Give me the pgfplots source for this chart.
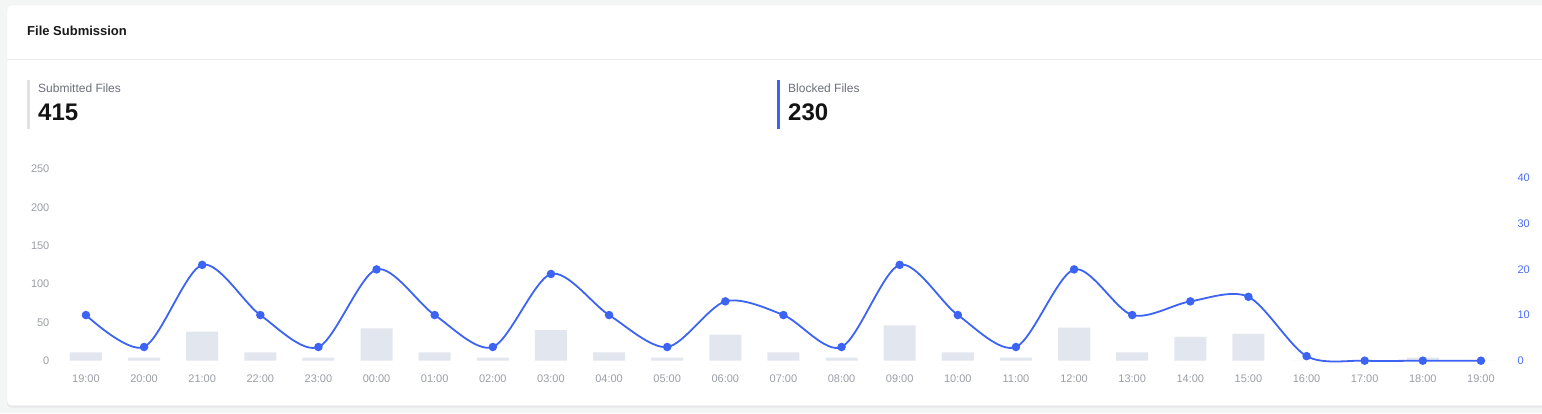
\documentclass[border=0pt]{standalone}
\usepackage{fontspec}
\setmainfont{Liberation Sans}
\usepackage{pgfplots}
\pgfplotsset{compat=1.18}

\definecolor{pagebg}{HTML}{F4F5F5}
\definecolor{cardline}{HTML}{E9EAEC}
\definecolor{shadowc}{HTML}{E6E7E8}
\definecolor{barc}{HTML}{E2E6EF}
\definecolor{linec}{HTML}{3D63F3}
\definecolor{rtick}{HTML}{4A6CF7}
\definecolor{gtick}{HTML}{9B9EA6}
\definecolor{kpilabel}{HTML}{6C7079}
\definecolor{kpigrey}{HTML}{DFE2E8}

\begin{document}
\begin{tikzpicture}
\begin{scope}[x=1pt,y=1pt]
\fill[pagebg] (0,0) rectangle (1542,413);
% card
\fill[shadowc,rounded corners=4] (7,5.5) rectangle (1560,407);
\filldraw[fill=white,draw=cardline,rounded corners=4] (7,7.5) rectangle (1560,408);
\draw[cardline] (7,353.7) -- (1542,353.7);
\node[anchor=west,inner sep=0,font=\fontsize{13}{15}\selectfont\bfseries,text=black!90] at (27,382) {File Submission};

% KPIs
\fill[kpigrey] (27,284) rectangle (29.7,333);
\node[anchor=west,inner sep=0,font=\fontsize{12}{14}\selectfont,text=kpilabel] at (38,325) {Submitted Files};
\node[anchor=west,inner sep=0,font=\fontsize{24}{28}\selectfont\bfseries,text=black!92] at (38,300.5) {415};
\fill[linec] (777,284) rectangle (779.8,333);
\node[anchor=west,inner sep=0,font=\fontsize{12}{14}\selectfont,text=kpilabel] at (788,325) {Blocked Files};
\node[anchor=west,inner sep=0,font=\fontsize{24}{28}\selectfont\bfseries,text=black!92] at (788,300.5) {230};
\end{scope}

\pgfplotsset{
  every axis/.append style={
    at={(56.9pt,52.3pt)}, anchor=south west,
    width=1453.1pt, height=191.7pt, scale only axis,
    xmin=-0.5, xmax=24.5,
    axis line style={draw=none},
    tick style={draw=none},
    /pgf/number format/assume math mode=true,
    tick label style={font=\fontsize{11}{13}\selectfont},
  }
}

% submitted files (bars, left axis)
\begin{axis}[
    ymin=0, ymax=250,
    ytick={0,50,100,150,200,250},
    yticklabel style={text=gtick, xshift=-4pt},
    xtick={0,...,24},
    xticklabels={19:00,20:00,21:00,22:00,23:00,00:00,01:00,02:00,03:00,04:00,05:00,06:00,07:00,08:00,09:00,10:00,11:00,12:00,13:00,14:00,15:00,16:00,17:00,18:00,19:00},
    xticklabel style={text=gtick, anchor=center, yshift=-14pt},
    ybar, bar width=32pt,
]
\addplot[fill=barc, draw=none] coordinates {
(0,11)(1,4)(2,38)(3,11)(4,4)(5,42)(6,11)(7,4)(8,40)(9,11)(10,4)(11,34)(12,11)
(13,4)(14,46)(15,11)(16,4)(17,43)(18,11)(19,31)(20,35)(21,0)(22,0)(23,4)(24,0)};
\end{axis}

% blocked files (line, right axis)
\begin{axis}[
    ymin=0, ymax=42,
    axis y line*=right,
    hide x axis,
    ytick={0,10,20,30,40},
    yticklabel style={text=rtick, xshift=4pt},
    clip=false,
]
\addplot[linec, line width=1.8pt, smooth, tension=0.5, mark=*, mark size=3.3pt,
         mark options={solid, fill=linec, draw=none}] coordinates {
(0,10)(1,3)(2,21)(3,10)(4,3)(5,20)(6,10)(7,3)(8,19)(9,10)(10,3)(11,13)(12,10)
(13,3)(14,21)(15,10)(16,3)(17,20)(18,10)(19,13)(20,14)(21,1)(22,0)(23,0)(24,0)};
\end{axis}

\pgfresetboundingbox
\path[use as bounding box] (0,0) rectangle (1542pt,413pt);
\end{tikzpicture}
\end{document}
